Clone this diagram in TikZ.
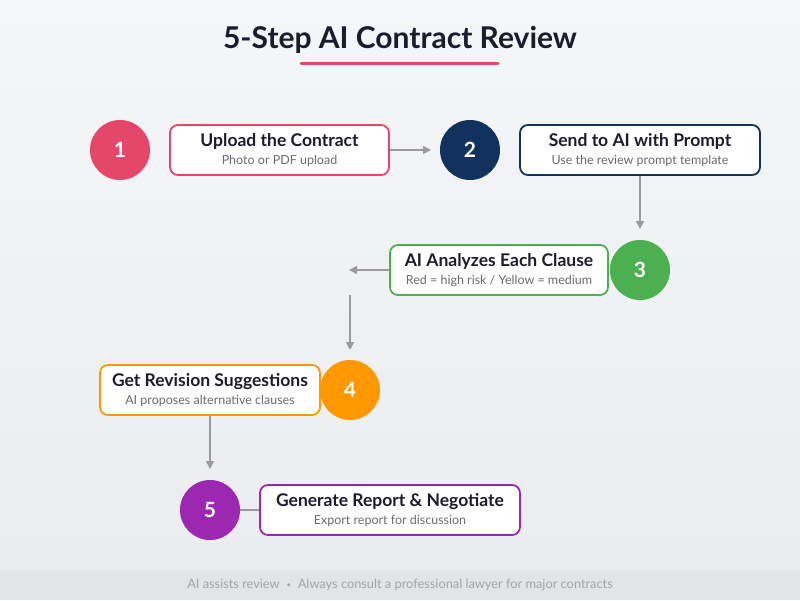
\documentclass[tikz,border=0pt]{standalone}
\usepackage{fontspec}
\setmainfont{Lato}
\usetikzlibrary{arrows.meta}
\definecolor{bgtop}{HTML}{F5F6F8}
\definecolor{bgbot}{HTML}{EAECEF}
\definecolor{footbg}{HTML}{E2E4E7}
\definecolor{foottxt}{HTML}{A0A4AA}
\definecolor{ink}{HTML}{1C1C2E}
\definecolor{subink}{HTML}{6B6B6B}
\definecolor{arrowgray}{HTML}{9A9A9A}
\definecolor{cred}{HTML}{E5476A}
\definecolor{cnavy}{HTML}{12325E}
\definecolor{cgreen}{HTML}{4CAF50}
\definecolor{corange}{HTML}{FF9800}
\definecolor{cpurple}{HTML}{9C27B0}
\definecolor{uline}{HTML}{DE4A64}
\tikzset{
  stepcircle/.style={circle, minimum size=60pt, inner sep=0pt, text=white, font=\fontsize{21}{24}\selectfont\bfseries},
  stepbox/.style={draw, line width=1.8pt, rounded corners=8pt, fill=white, minimum height=50pt, inner sep=0pt, align=center},
  conn/.style={draw=arrowgray, line width=1.6pt, -{Triangle[length=8pt,width=8pt]}},
  plainconn/.style={draw=arrowgray, line width=1.6pt},
}
\newcommand{\boxtext}[2]{{\fontsize{17.5}{20}\selectfont\bfseries\color{ink}#1}\\[5pt]{\fontsize{12.5}{15}\selectfont\color{subink}#2}}
\begin{document}
\begin{tikzpicture}[x=1pt,y=-1pt]
\useasboundingbox (0,0) rectangle (800,600);
\shade[top color=bgtop, bottom color=bgbot] (0,0) rectangle (800,570);
\fill[footbg] (0,570) rectangle (800,600);
\node[text=ink, font=\fontsize{30}{34}\selectfont\bfseries] (title) at (400,40) {5-Step AI Contract Review};
\draw[uline, line width=3pt, line cap=round] (301,63) -- (498,63);

\node[stepcircle, fill=cred] (c1) at (120,150) {1};
\node[stepbox, draw=cred, minimum width=219pt] (b1) at (279.5,150) {\boxtext{Upload the Contract}{Photo or PDF upload}};
\node[stepcircle, fill=cnavy] (c2) at (470,150) {2};
\node[stepbox, draw=cnavy, minimum width=240pt] (b2) at (640,150) {\boxtext{Send to AI with Prompt}{Use the review prompt template}};
\node[stepcircle, fill=cgreen] (c3) at (640,270) {3};
\node[stepbox, draw=cgreen, minimum width=218pt] (b3) at (499,270) {\boxtext{AI Analyzes Each Clause}{Red = high risk / Yellow = medium}};
\node[stepcircle, fill=corange] (c4) at (350,390) {4};
\node[stepbox, draw=corange, minimum width=220pt] (b4) at (210,390) {\boxtext{Get Revision Suggestions}{AI proposes alternative clauses}};
\node[stepcircle, fill=cpurple] (c5) at (210,510) {5};
\node[stepbox, draw=cpurple, minimum width=260pt] (b5) at (390,510) {\boxtext{Generate Report \& Negotiate}{Export report for discussion}};

\coordinate (a1e) at (431,150);
\coordinate (a2e) at (640,229);
\coordinate (a3e) at (349,270);
\coordinate (a4s) at (350,295);
\coordinate (a4e) at (350,350);
\coordinate (a5e) at (210,469);

\draw[conn] (b1.east) -- (a1e);
\draw[conn] (b2.south) -- (a2e);
\draw[conn] (b3.west) -- (a3e);
\draw[conn] (a4s) -- (a4e);
\draw[conn] (b4.south) -- (a5e);
\draw[plainconn] (c5.east) -- (b5.west);

\node[text=foottxt, font=\fontsize{12.8}{15}\selectfont] (foot) at (400,585) {AI assists review \;\raisebox{0.15ex}{\scalebox{0.6}{\textbullet}}\; Always consult a professional lawyer for major contracts};
\end{tikzpicture}
\end{document}
